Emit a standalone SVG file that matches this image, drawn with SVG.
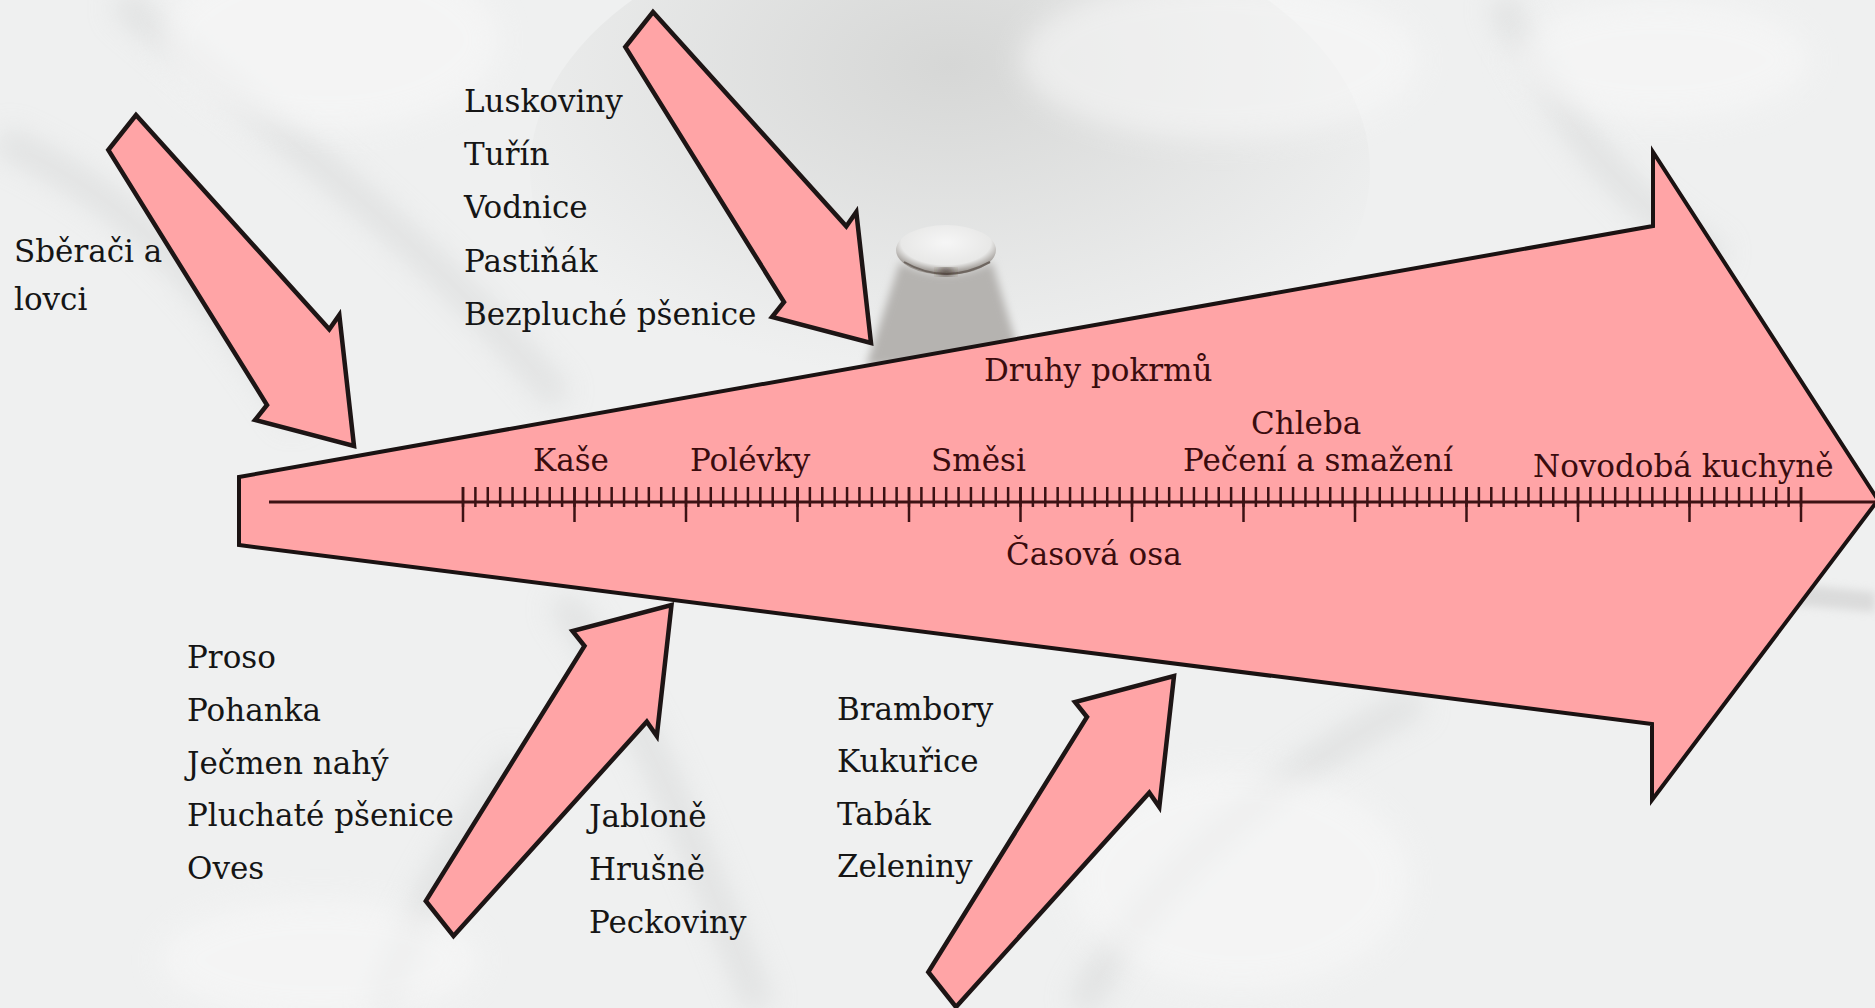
<svg xmlns="http://www.w3.org/2000/svg" xmlns:xlink="http://www.w3.org/1999/xlink" width="1875" height="1008" viewBox="0 0 1875 1008">
  <style>
    .t { font-family: "DejaVu Serif", "Liberation Serif", serif; font-size: 31px; fill: #151515; }
    .m { fill: #3a0c0e; }
    .arrow { fill: #ffa4a6; stroke: #1d1515; stroke-width: 4.5; stroke-linejoin: miter; }
    .main { fill: #ffa4a6; stroke: #1a1212; stroke-width: 4; stroke-linejoin: miter; }
    .axis { stroke: #3c1214; fill: none; }
  </style>
  <defs>
    <filter id="blur" x="-20%" y="-20%" width="140%" height="140%">
      <feGaussianBlur stdDeviation="14"/>
    </filter>
    <filter id="blurs" x="-20%" y="-20%" width="140%" height="140%">
      <feGaussianBlur stdDeviation="4"/>
    </filter>
    <radialGradient id="bgshade" cx="0.5" cy="0.3" r="0.6">
      <stop offset="0" stop-color="#d6d7d6"/>
      <stop offset="1" stop-color="#d6d7d6" stop-opacity="0"/>
    </radialGradient>
    <radialGradient id="bulb" cx="0.5" cy="0.35" r="0.6">
      <stop offset="0" stop-color="#f6f6f6"/>
      <stop offset="0.75" stop-color="#e8e8e7"/>
      <stop offset="1" stop-color="#9a9590"/>
    </radialGradient>
    <polygon id="sa" class="arrow" points="0,0 -14.7,-131 -24.7,-116.7 -218,-331 -245.7,-296 -87,-41 -99,-26"/>
  </defs>

  <!-- background -->
  <g id="background">
    <rect width="1875" height="1008" fill="#eff0f0"/>
    <ellipse cx="950" cy="170" rx="420" ry="260" fill="url(#bgshade)"/>
    <g filter="url(#blur)" opacity="0.5" fill="none" stroke="#cfd0d0" stroke-width="26">
      <path d="M120,0 C260,120 420,230 560,400"/>
      <path d="M0,140 C140,200 220,300 300,420"/>
      <path d="M560,600 C640,700 700,860 760,1008"/>
      <path d="M1080,1008 C1160,860 1300,760 1420,700"/>
      <path d="M1500,0 C1560,120 1620,200 1720,260"/>
      <path d="M380,1008 C420,900 470,820 520,760"/>
    </g>
    <g filter="url(#blur)" fill="#f8f8f8" opacity="0.6">
      <ellipse cx="330" cy="40" rx="170" ry="90"/>
      <ellipse cx="1220" cy="60" rx="200" ry="80"/>
      <ellipse cx="1660" cy="60" rx="150" ry="60"/>
      <ellipse cx="1240" cy="880" rx="170" ry="110"/>
      <ellipse cx="320" cy="960" rx="160" ry="60"/>
    </g>
    <path d="M1650,570 L1875,592 L1875,612 L1660,594 Z" fill="#cdcdcd" filter="url(#blurs)" opacity="0.6"/>
    <!-- central funnel -->
    <path d="M900,262 Q945,285 992,262 L1022,362 L866,366 Z" fill="#b5b3b0" filter="url(#blurs)"/>
    <ellipse cx="946" cy="250" rx="50" ry="25" fill="url(#bulb)"/>
    <path d="M904,262 Q946,286 990,262" fill="none" stroke="#6e6660" stroke-width="2"/>
    <ellipse cx="946" cy="272" rx="8" ry="3.5" fill="#3a2a22" filter="url(#blurs)"/>
  </g>

  <!-- main timeline arrow -->
  <g id="timeline">
    <polygon class="main" points="239,477 1653,226 1653,152 1878,500 1652,800 1652,724 239,545"/>
    <line class="axis" x1="269" y1="502" x2="1876" y2="502" stroke-width="3"/>
    <line class="axis" x1="461.75" y1="497" x2="1803.25" y2="497" stroke-width="20" stroke-dasharray="2.5 9.8889"/>
    <line class="axis" x1="461.75" y1="504.5" x2="1803.25" y2="504.5" stroke-width="35" stroke-dasharray="2.5 109"/>
    <text class="t m" x="984" y="381">Druhy pokrmů</text>
    <text class="t m" x="533" y="471">Kaše</text>
    <text class="t m" x="690" y="471">Polévky</text>
    <text class="t m" x="931" y="471">Směsi</text>
    <text class="t m" x="1251" y="434">Chleba</text>
    <text class="t m" x="1183" y="471">Pečení a smažení</text>
    <text class="t m" x="1533" y="477">Novodobá kuchyně</text>
    <text class="t m" x="1006" y="565">Časová osa</text>
  </g>

  <!-- connectors: influence arrows -->
  <g id="connectors">
    <use xlink:href="#sa" transform="translate(354,446)"/>
    <use xlink:href="#sa" transform="translate(871,343)"/>
    <use xlink:href="#sa" transform="translate(671.5,605) scale(1,-1)"/>
    <use xlink:href="#sa" transform="translate(1174,676) scale(1,-1)"/>
  </g>

  <g id="n-sberaci">
    <text class="t" x="14" y="262">Sběrači a</text>
    <text class="t" x="14" y="310">lovci</text>
  </g>
  <g id="n-luskoviny">
    <text class="t" x="464" y="112">Luskoviny</text>
    <text class="t" x="464" y="165">Tuřín</text>
    <text class="t" x="464" y="218">Vodnice</text>
    <text class="t" x="464" y="272">Pastiňák</text>
    <text class="t" x="464" y="325">Bezpluché pšenice</text>
  </g>
  <g id="n-proso">
    <text class="t" x="187" y="668">Proso</text>
    <text class="t" x="187" y="721">Pohanka</text>
    <text class="t" x="187" y="774">Ječmen nahý</text>
    <text class="t" x="187" y="826">Pluchaté pšenice</text>
    <text class="t" x="187" y="879">Oves</text>
  </g>
  <g id="n-jablone">
    <text class="t" x="589" y="827">Jabloně</text>
    <text class="t" x="589" y="880">Hrušně</text>
    <text class="t" x="589" y="933">Peckoviny</text>
  </g>
  <g id="n-brambory">
    <text class="t" x="837" y="720">Brambory</text>
    <text class="t" x="837" y="772">Kukuřice</text>
    <text class="t" x="837" y="825">Tabák</text>
    <text class="t" x="837" y="877">Zeleniny</text>
  </g>
</svg>
